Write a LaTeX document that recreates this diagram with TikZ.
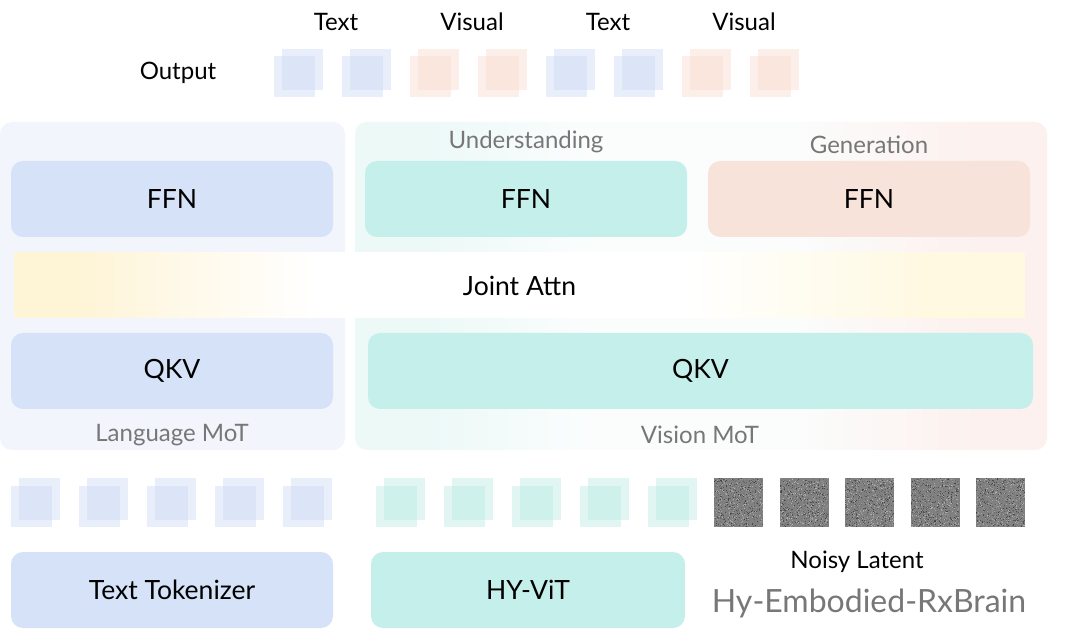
\documentclass[tikz,border=0pt]{standalone}
\usepackage{fontspec}
\setmainfont{Lato}
\definecolor{bluebox}{HTML}{D6E2F7}
\definecolor{tealbox}{HTML}{C4EFEA}
\definecolor{peachbox}{HTML}{F7E3DA}
\definecolor{langpanel}{HTML}{F2F5FC}
\definecolor{vteal}{HTML}{ECF9F7}
\definecolor{vpeach}{HTML}{FCF1EE}
\definecolor{vmid}{HTML}{FBFDFD}
\definecolor{graytext}{HTML}{777777}
\definecolor{tokblue}{HTML}{CAD9F4}
\definecolor{tokpeach}{HTML}{F8DACB}
\definecolor{tokteal}{HTML}{B8EBE4}
\definecolor{attnY}{HTML}{FEF4D6}
\definecolor{attnY2}{HTML}{FFF9E2}
\pgfdeclarehorizontalshading{attnshade}{100bp}{color(0bp)=(attnY); color(25bp)=(attnY); color(28bp)=(attnY); color(40bp)=(white); color(58bp)=(white); color(70bp)=(attnY2); color(75bp)=(attnY2); color(100bp)=(attnY2)}
\pgfdeclarehorizontalshading{visshade}{100bp}{color(0bp)=(vteal); color(25bp)=(vteal); color(30bp)=(vteal); color(42bp)=(vmid); color(56bp)=(vmid); color(70bp)=(vpeach); color(75bp)=(vpeach); color(100bp)=(vpeach)}
\tikzset{
  panel/.style={rounded corners=12pt, draw=none},
  box/.style={rounded corners=12pt, draw=none, inner sep=0pt, minimum height=76pt, font=\fontsize{26.5}{30}\selectfont},
  lbl/.style={inner sep=0pt, font=\fontsize{24}{28}\selectfont},
  glbl/.style={lbl, text=graytext},
  tok/.style={minimum size=41pt, inner sep=0pt, draw=none, fill opacity=0.42},
  noise/.style={minimum size=49pt, inner sep=0pt, draw=none, fill=black!50}
}
\begin{document}
\begin{tikzpicture}[x=1pt,y=-1pt]
\useasboundingbox (0,0) rectangle (1080,644);
\fill[white] (0,0) rectangle (1080,644);
% panels
\node[panel, fill=langpanel, minimum width=345pt, minimum height=328pt, inner sep=0pt] (langp) at (172.5,286) {};
\node[panel, shading=visshade, minimum width=692pt, minimum height=328pt, inner sep=0pt] (visp) at (701,286) {};
% boxes
\node[box, fill=bluebox, minimum width=322pt] (ffnL) at (172,199) {FFN};
\node[box, fill=tealbox, minimum width=322pt] (ffnU) at (526,199) {FFN};
\node[box, fill=peachbox, minimum width=322pt] (ffnG) at (869,199) {FFN};
\node[box, shading=attnshade, rounded corners=0pt, minimum width=1011pt, minimum height=65pt] (attn) at (519.5,285.5) {Joint Attn};
\node[box, fill=bluebox, minimum width=322pt] (qkvL) at (172,371) {QKV};
\node[box, fill=tealbox, minimum width=665pt] (qkvR) at (700.5,371) {QKV};
\node[box, fill=bluebox, minimum width=322pt] (tok) at (172,590) {Text Tokenizer};
\node[box, fill=tealbox, minimum width=314pt] (vit) at (528,590) {HY-ViT};
% labels
\node[glbl] (und) at (526,142) {Understanding};
\node[glbl] (gen) at (869,145) {Generation};
\node[glbl] (langl) at (172,435) {Language MoT};
\node[glbl] (visl) at (700,435) {Vision MoT};
\node[lbl] (outl) at (178,73) {Output};
\node[lbl] (t1) at (336,22) {Text};
\node[lbl] (v1) at (472,22) {Visual};
\node[lbl] (t2) at (608,22) {Text};
\node[lbl] (v2) at (744,22) {Visual};
\node[lbl] (noisyl) at (857,562) {Noisy Latent};
\node[inner sep=0pt, text=graytext, font=\fontsize{32}{38}\selectfont] (brand) at (869,603) {Hy-Embodied-RxBrain};
% output tokens
\foreach \c [count=\k from 0] in {tokblue,tokblue,tokpeach,tokpeach,tokblue,tokblue,tokpeach,tokpeach}{
  \pgfmathsetmacro\xo{274+68*\k}
  \node[tok, fill=\c] (ob\k) at (\xo+28.5,69.5) {};
  \node[tok, fill=\c] (of\k) at (\xo+20.5,76.5) {};
}
% input tokens
\foreach \k in {0,...,4}{
  \pgfmathsetmacro\xo{11+68*\k}
  \node[tok, fill=tokblue] (ib\k) at (\xo+28.5,499) {};
  \node[tok, fill=tokblue] (if\k) at (\xo+20.5,506) {};
  \pgfmathsetmacro\xt{376+68*\k}
  \node[tok, fill=tokteal] (tb\k) at (\xt+28.5,499) {};
  \node[tok, fill=tokteal] (tf\k) at (\xt+20.5,506) {};
}
% noisy latent squares
\pgfmathsetseed{42}
\foreach \k in {0,...,4}{
  \pgfmathsetmacro\xn{714+65.5*\k}
  \node[noise] (n\k) at (\xn+24.5,502.5) {};
  \foreach \j in {1,...,900}{
    \pgfmathsetmacro\px{\xn+rnd*48}
    \pgfmathsetmacro\py{478+rnd*48}
    \pgfmathsetmacro\g{int(30+rnd*45)}
    \fill[black!\g] (\px,\py) rectangle ++(1,1);
  }
}
\end{tikzpicture}
\end{document}
